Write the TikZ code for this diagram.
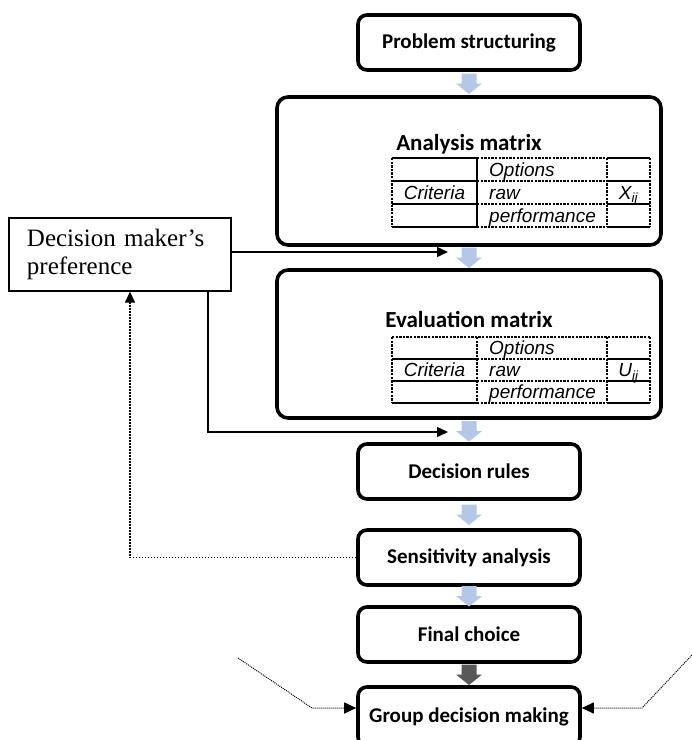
\documentclass[tikz,border=0pt]{standalone}
\usepackage{fontspec}
\setmainfont{Liberation Serif}
\newfontfamily\labelfont{Carlito}
\newfontfamily\cellfont{Liberation Sans}
\usetikzlibrary{arrows.meta,calc}

\definecolor{flowblue}{RGB}{180,199,231}
\definecolor{flowgray}{RGB}{89,89,89}

\newcommand\stagefont{\labelfont\bfseries\fontsize{21}{25}\selectfont}
\newcommand\titlefont{\labelfont\bfseries\fontsize{23}{27}\selectfont}
\newcommand\cellsize{\cellfont\itshape\fontsize{19}{22}\selectfont}

\begin{document}
\begin{tikzpicture}[x=1pt,y=-1pt,
  stage/.style={draw, line width=3.6pt, rounded corners=9pt,
    minimum width=222pt, minimum height=55pt, inner sep=0pt, font=\stagefont},
  bigstage/.style={draw, line width=3.6pt, rounded corners=11pt,
    minimum width=384pt, minimum height=148pt, inner sep=0pt},
  dmbox/.style={draw, line width=1.3pt, minimum width=222pt, minimum height=73pt,
    text width=186pt, inner xsep=18pt, inner ysep=0pt, align=left,
    font=\fontsize{25}{28.75}\selectfont},
  cell/.style={inner sep=0pt, anchor=base west, font=\cellsize},
  ccell/.style={inner sep=0pt, anchor=base, font=\cellsize},
  cellsolid/.style={line width=1.1pt},
  celldash/.style={line width=1.1pt, dash pattern=on 2.4pt off 1.2pt},
  link/.style={line width=1.4pt, -{Triangle[length=11pt,width=10pt]}},
  feedback/.style={line width=1.6pt, dash pattern=on 1.6pt off 1.4pt,
    -{Triangle[length=11pt,width=10pt]}},
  outside/.style={line width=1pt, dash pattern=on 1pt off 1pt,
    -{Triangle[length=12pt,width=11pt]}},
  blockdown/.pic={\fill[#1] (-7.5,-10) -- (7.5,-10) -- (7.5,0) -- (13,0)
    -- (0,10.5) -- (-13,0) -- (-7.5,0) -- cycle;}
]
\fill[white] (0,0) rectangle (692,740);
\clip (0,0) rectangle (692,740);

% main stages
\node[stage] (ps) at (469,42.5) {Problem structuring};
\node[bigstage] (am) at (469,171) {};
\node[bigstage] (em) at (469,344) {};
\node[stage] (dr) at (469,471.5) {Decision rules};
\node[stage] (sa) at (469,557.5) {Sensitivity analysis};
\node[stage] (fc) at (469,634.5) {Final choice};
\node[stage, minimum height=59pt] (gd) at (469,716.5) {Group decision making};

% side box
\node[dmbox] (dm) at (120,254.5) {Decision maker’s\\preference};

% analysis matrix
\node[font=\titlefont, anchor=base, inner sep=0pt] (amt) at (469,150) {Analysis matrix};
\foreach \y in {158,181,204,227} {
  \draw[cellsolid] (392,\y) -- (477,\y);
  \draw[celldash] (477,\y) -- (607,\y);
  \draw[cellsolid] (607,\y) -- (650,\y);
}
\draw[celldash] (392,158) -- (392,227);
\draw[cellsolid] (477,158) -- (477,227);
\draw[celldash] (607,158) -- (607,227);
\draw[celldash] (650,158) -- (650,227);
\node[cell] (amo) at (489,176) {Options};
\node[cell] (amr) at (489,199) {raw};
\node[cell] (amp) at (489,222) {performance};
\node[ccell] (amc) at (434.5,199) {Criteria};
\node[ccell] (amx) at (628.5,199) {X\textsubscript{ij}};

% evaluation matrix
\node[font=\titlefont, anchor=base, inner sep=0pt] (emt) at (469,327) {Evaluation matrix};
\draw[celldash] (392,337) -- (650,337);
\foreach \y in {359,381,403} {
  \draw[cellsolid] (392,\y) -- (477,\y);
  \draw[celldash] (477,\y) -- (607,\y);
  \draw[cellsolid] (607,\y) -- (650,\y);
}
\foreach \x in {392,477,607,650}
  \draw[celldash] (\x,337) -- (\x,403);
\node[cell] (emo) at (489,354.5) {Options};
\node[cell] (emr) at (489,376.5) {raw};
\node[cell] (emp) at (489,398.5) {performance};
\node[ccell] (emc) at (434.5,376.5) {Criteria};
\node[ccell] (emu) at (628.5,376.5) {U\textsubscript{ij}};

% block arrows between stages
\pic at ($(ps.south)!0.5!(am.north)$) {blockdown=flowblue};
\pic at ($(am.south)!0.5!(em.north)$) {blockdown=flowblue};
\pic at ($(em.south)!0.5!(dr.north)$) {blockdown=flowblue};
\pic at ($(dr.south)!0.5!(sa.north)$) {blockdown=flowblue};
\pic at ($(sa.south)!0.5!(fc.north)$) {blockdown=flowblue};
\pic at ($(fc.south)!0.5!(gd.north)$) {blockdown=flowgray};

% preference links
\coordinate (pin1) at (448,252);
\coordinate (bend) at (208,432);
\coordinate (pin2) at (448,432);
\draw[link] (dm.east |- pin1) -- (pin1);
\draw[link] (dm.south -| bend) -- (bend) -- (pin2);

% feedback from sensitivity analysis
\coordinate (fb) at (130,557.5);
\draw[feedback] (sa.west) -- (fb) -- (fb |- dm.south);

% inputs from other decision makers
\coordinate (gl1) at (238,658);
\coordinate (gl2) at (312,708);
\coordinate (gr1) at (700,646.5);
\coordinate (gr2) at (642,708);
\draw[outside] (gl1) -- (gl2) -- (gd.west |- gl2);
\draw[outside] (gr1) -- (gr2) -- (gd.east |- gr2);
\end{tikzpicture}
\end{document}
